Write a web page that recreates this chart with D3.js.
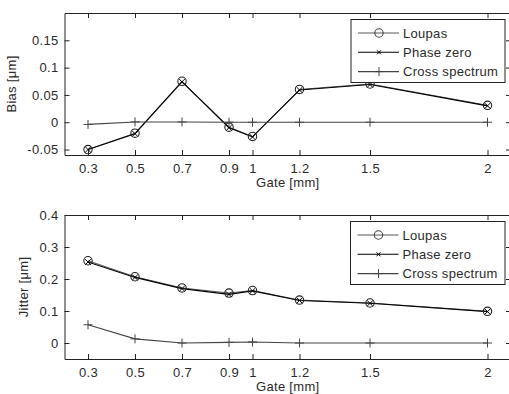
<!DOCTYPE html>
<html><head><meta charset="utf-8">
<script src="https://cdn.jsdelivr.net/npm/d3@7"></script>
<style>
html,body{margin:0;padding:0;background:#fff;}
svg{display:block;font-family:"Liberation Sans",Arial,sans-serif;}
</style></head>
<body><svg id="c" width="509" height="394"></svg>
<script>
const gates = [0.3, 0.5, 0.7, 0.9, 1, 1.2, 1.5, 2];
const xTicks = [0.3, 0.5, 0.7, 0.9, 1, 1.2, 1.5, 2];
const biasLoupas    = [-0.050, -0.020, 0.075, -0.009, -0.026, 0.060, 0.070, 0.031];
const biasPhaseZero = [-0.050, -0.021, 0.074, -0.010, -0.027, 0.059, 0.069, 0.030];
const biasCross     = [-0.004, 0.0005, 0.0005, 0.0, 0.0, 0.0, 0.0, 0.0];
const jitterLoupas    = [0.257, 0.207, 0.172, 0.156, 0.164, 0.134, 0.125, 0.099];
const jitterPhaseZero = [0.253, 0.205, 0.170, 0.152, 0.163, 0.133, 0.124, 0.098];
const jitterCross     = [0.057, 0.013, 0.000, 0.002, 0.003, 0.000, 0.000, 0.000];
const biasTicks = [-0.05, 0, 0.05, 0.1, 0.15];
const jitterTicks = [0, 0.1, 0.2, 0.3, 0.4];
const seriesNames = ["Loupas", "Phase zero", "Cross spectrum"];

const svg = d3.select("#c");
const FS = 13;
const txtCol = "#2a2a2a";

function panel(cfg) {
  const x = d3.scaleLinear().domain([0.2, 2.1]).range([64.5, 511]);
  const y = d3.scaleLinear().domain(cfg.ydom).range([cfg.bottom, cfg.top]);
  const g = svg.append("g");
  const fmt = d => String(d);
  const ax = g.append("g").attr("transform", `translate(0,${cfg.bottom})`)
    .call(d3.axisBottom(x).tickValues(xTicks).tickFormat(fmt).tickSizeInner(-5).tickSizeOuter(0).tickPadding(9));
  const axT = g.append("g").attr("transform", `translate(0,${cfg.top})`)
    .call(d3.axisTop(x).tickValues(xTicks).tickFormat("").tickSizeInner(-5).tickSizeOuter(0));
  const ay = g.append("g").attr("transform", `translate(64.5,0)`)
    .call(d3.axisLeft(y).tickValues(cfg.yticks).tickFormat(fmt).tickSizeInner(-5).tickSizeOuter(0).tickPadding(6));
  const ayR = g.append("g").attr("transform", `translate(511,0)`)
    .call(d3.axisRight(y).tickValues(cfg.yticks).tickFormat("").tickSizeInner(-5).tickSizeOuter(0));
  [ax, axT, ay, ayR].forEach(a => {
    a.selectAll("path.domain").attr("stroke", "#222").attr("stroke-width", 1);
    a.selectAll("line").attr("stroke", "#222");
    a.selectAll("text").attr("font-size", FS).attr("fill", txtCol)
      .attr("font-family", "Liberation Sans, Arial, sans-serif").attr("letter-spacing", 0.3);
  });
  ax.selectAll("text").attr("dy", "0.71em");
  g.append("text").attr("x", (64.5 + 511) / 2).attr("y", cfg.bottom + 32)
    .attr("text-anchor", "middle").attr("font-size", FS).attr("fill", txtCol).attr("letter-spacing", 0.3)
    .text("Gate [mm]");
  g.append("text").attr("transform", `translate(${cfg.ylabX},${(cfg.top + cfg.bottom) / 2}) rotate(-90)`)
    .attr("text-anchor", "middle").attr("font-size", FS).attr("fill", txtCol).attr("letter-spacing", 0.3)
    .text(cfg.ylabel);

  const clipId = "clip" + cfg.top;
  g.append("clipPath").attr("id", clipId).append("rect")
    .attr("x", 64.5).attr("y", cfg.top).attr("width", 511 - 64.5).attr("height", cfg.bottom - cfg.top);
  const plot = g.append("g").attr("clip-path", `url(#${clipId})`);

  const line = d3.line().x((d, i) => x(gates[i])).y(d => y(d));
  const series = [
    {vals: cfg.data[0], col: "#444", w: 0.9, marker: "o"},
    {vals: cfg.data[1], col: "#000", w: 1.1, marker: "x"},
    {vals: cfg.data[2], col: "#444", w: 1.1, marker: "+"}
  ];
  series.forEach(s => {
    plot.append("path").attr("d", line(s.vals)).attr("fill", "none").attr("stroke", s.col).attr("stroke-width", s.w);
  });
  series.forEach(s => {
    s.vals.forEach((v, i) => drawMarker(plot, s.marker, x(gates[i]), y(v), s.marker === "o" ? "#222" : s.col));
  });

  const L = cfg.legend;
  g.append("rect").attr("x", L.x).attr("y", L.y).attr("width", L.w).attr("height", L.h)
    .attr("fill", "#fff").attr("stroke", "#222").attr("stroke-width", 1);
  series.forEach((s, i) => {
    const yy = L.y + 13.5 + i * 19.3;
    g.append("line").attr("x1", L.x + 7).attr("x2", L.x + 48).attr("y1", yy).attr("y2", yy)
      .attr("stroke", s.col).attr("stroke-width", s.w);
    drawMarker(g, s.marker, L.x + 28, yy, s.col, true);
    g.append("text").attr("x", L.x + 52).attr("y", yy).attr("dy", "0.36em")
      .attr("font-size", FS).attr("fill", txtCol).attr("letter-spacing", 0.3).text(seriesNames[i]);
  });
}

function drawMarker(g, m, cx, cy, col, small) {
  if (m === "o") {
    g.append("circle").attr("cx", cx).attr("cy", cy).attr("r", 4.2)
      .attr("fill", "none").attr("stroke", col).attr("stroke-width", 1.1);
  } else if (m === "x") {
    const s = small ? 2 : 2.8;
    g.append("path").attr("d", `M${cx - s},${cy - s}L${cx + s},${cy + s}M${cx - s},${cy + s}L${cx + s},${cy - s}`)
      .attr("stroke", col).attr("stroke-width", 1);
  } else {
    const s = 4.5;
    g.append("path").attr("d", `M${cx - s},${cy}L${cx + s},${cy}M${cx},${cy - s}L${cx},${cy + s}`)
      .attr("stroke", col).attr("stroke-width", 1);
  }
}

panel({top: 13, bottom: 155, ydom: [-0.06, 0.2], yticks: biasTicks, ylabel: "Bias [\u03bcm]", ylabX: 16,
  data: [biasLoupas, biasPhaseZero, biasCross], legend: {x: 351, y: 19.5, w: 154, h: 63}});
panel({top: 215, bottom: 359, ydom: [-0.05, 0.4], yticks: jitterTicks, ylabel: "Jitter [\u03bcm]", ylabX: 28,
  data: [jitterLoupas, jitterPhaseZero, jitterCross], legend: {x: 350.5, y: 221.5, w: 154.5, h: 63}});
</script></body></html>
